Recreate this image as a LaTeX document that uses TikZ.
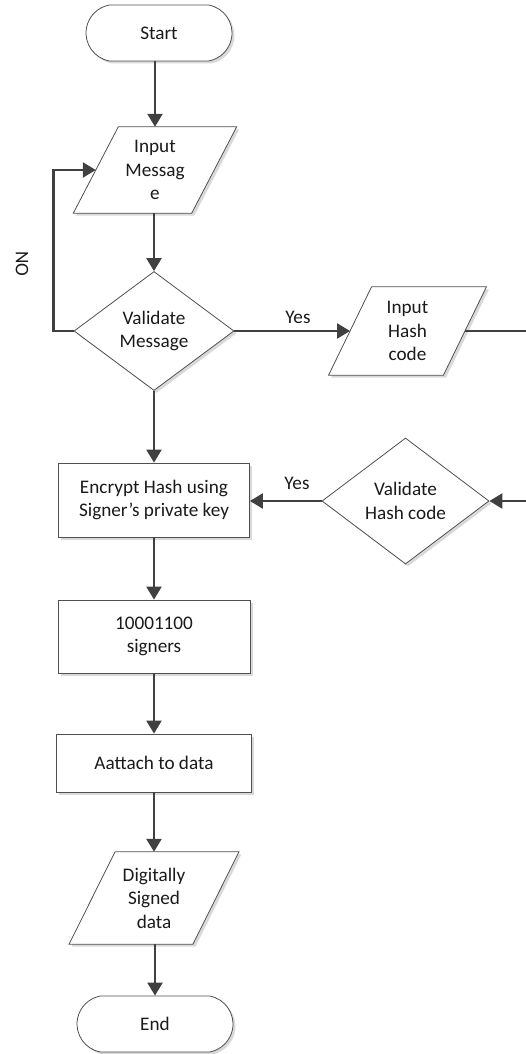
\documentclass[tikz,border=0pt]{standalone}
\usepackage{fontspec}
\setmainfont{Carlito}
\usetikzlibrary{arrows.meta,shapes.geometric,shapes.misc,shadows,backgrounds,calc}
\definecolor{linec}{HTML}{404040}
\definecolor{edgec}{HTML}{505050}
\definecolor{txtc}{HTML}{1A1A1A}
\definecolor{shadc}{HTML}{D9D9D9}
\newcommand\drawpara[2]{%
  \path[fill=shadc] ($(#1.north west)+(#2+2.5,2.5)$) -- ($(#1.north east)+(#2+2.5,2.5)$) -- ($(#1.south east)+(-#2+2.5,2.5)$) -- ($(#1.south west)+(-#2+2.5,2.5)$) -- cycle;
  \path[fill=white,draw=edgec,line width=0.8pt] ($(#1.north west)+(#2,0)$) -- ($(#1.north east)+(#2,0)$) -- ($(#1.south east)+(-#2,0)$) -- ($(#1.south west)+(-#2,0)$) -- cycle;}
\begin{document}
\begin{tikzpicture}[x=1pt,y=-1pt,
  font=\fontsize{19.2}{23.4}\selectfont, text=txtc,
  shad/.style={drop shadow={shadow xshift=2.5pt,shadow yshift=-2.5pt,fill=shadc,opacity=1}},
  term/.style={rounded rectangle, rounded rectangle arc length=160, draw=edgec, line width=0.8pt, fill=white, shad, minimum height=56pt, inner sep=0pt},
  procbox/.style={rectangle, draw=edgec, line width=0.8pt, fill=white, shad, inner sep=0pt, align=center},
  decision/.style={diamond, draw=edgec, line width=0.8pt, fill=white, shad, inner sep=0pt, aspect=1.34, align=center},
  iobox/.style={rectangle, inner sep=0pt, align=center},
  arr/.style={draw=linec, line width=2.4pt, -{Triangle[length=13pt,width=15pt]}},
  lbl/.style={inner sep=0pt}]
\useasboundingbox (0,0) rectangle (525,1054);

% nodes
\node[term, minimum width=146pt] (start) at (159,33) {Start};
\node[iobox, minimum width=118pt, minimum height=86pt] (inmsg) at (155,170) {Input\\Messag\\e};
\node[decision, minimum width=160pt, minimum height=119pt] (valmsg) at (154,331) {Validate\\Message};
\node[iobox, minimum width=114.5pt, minimum height=88pt] (inhash) at (407.5,331) {Input\\Hash\\code};
\node[decision, minimum width=167pt, minimum height=126pt] (valhash) at (405.5,501) {Validate\\Hash code};
\node[procbox, minimum width=191pt, minimum height=74pt] (encrypt) at (154,500) {Encrypt Hash using\\Signer’s private key};
\node[procbox, minimum width=192pt, minimum height=73pt] (signers) at (154,636.5) {10001100\\signers};
\node[procbox, minimum width=195pt, minimum height=58pt] (attach) at (154,763) {Aattach to data};
\node[iobox, minimum width=123.5pt, minimum height=92pt] (digital) at (154,898) {Digitally\\Signed\\data};
\node[term, minimum width=156pt] (end) at (155,1024) {End};

\node[lbl, rotate=-90] (no) at (22,264) {NO};
\node[lbl] (yes1) at (298,317) {Yes};
\node[lbl] (yes2) at (297,483) {Yes};

\begin{pgfonlayer}{background}
  \drawpara{inmsg}{22.5}
  \drawpara{inhash}{21.5}
  \drawpara{digital}{23}
\end{pgfonlayer}

% connectors
\draw[arr] (start.south -| inmsg.north) -- (inmsg.north);
\draw[arr] (inmsg.south -| valmsg.north) -- (valmsg.north);
\draw[arr] (valmsg.south) -- (encrypt.north);
\draw[arr] (valmsg.west) -- ++(-20,0) |- (inmsg.west);
\draw[arr] (valmsg.east) -- (valmsg.east -| inhash.west);
\draw[arr] (inhash.east) -- ++(62,0) |- (valhash.east);
\draw[arr] (valhash.west) -- (valhash.west -| encrypt.east);
\draw[arr] (encrypt.south) -- (signers.north);
\draw[arr] (signers.south) -- (attach.north);
\draw[arr] (attach.south) -- (digital.north);
\draw[arr] (digital.south -| end.north) -- (end.north);
\end{tikzpicture}
\end{document}
